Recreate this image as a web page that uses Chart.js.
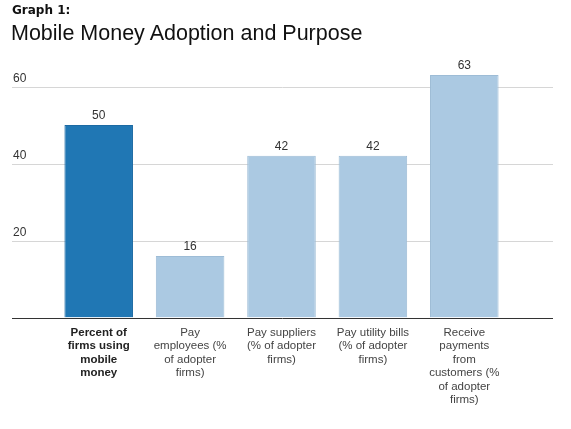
<!DOCTYPE html>
<html>
<head>
<meta charset="utf-8">
<script src="https://cdn.jsdelivr.net/npm/chart.js@4"></script>
<style>
  body { margin: 0; background: #fff; }
  #wrap { position: relative; width: 571px; height: 429px; }
  #kicker { position: absolute; left: 12px; top: 3px; font: bold 12px "DejaVu Sans", Verdana, sans-serif; color: #111; }
  #title { position: absolute; left: 11px; top: 21px; font: 21.5px "Liberation Sans", Arial, sans-serif; color: #111; }
  canvas { position: absolute; left: 0; top: 0; }
</style>
</head>
<body>
<div id="wrap">
  <canvas id="chart" width="571" height="429"></canvas>
  <div id="kicker">Graph 1:</div>
  <div id="title">Mobile Money Adoption and Purpose</div>
</div>
<script>
// datos del gráfico
const categories = [
    ['Percent of', 'firms using', 'mobile', 'money'],
    ['Pay', 'employees (%', 'of adopter', 'firms)'],
    ['Pay suppliers', '(% of adopter', 'firms)'],
    ['Pay utility bills', '(% of adopter', 'firms)'],
    ['Receive', 'payments', 'from', 'customers (%', 'of adopter', 'firms)']
];
const values = [50, 16, 42, 42, 63];
const yTicks = [0, 20, 40, 60];

const colors = {
    dark: '#2077b4',
    darkBorder: '#1c6aa3',
    light: '#abc9e2',
    lightBorder: '#9dbcd6',
    grid: '#d6d6d6',
    axis: '#333333',
    text: '#333333'
};

const fontFamily = '"Liberation Sans", Arial, sans-serif';

// líneas de cuadrícula a todo el ancho y etiquetas del eje y
const gridPlugin = {
    id: 'fullGrid',
    beforeDatasetsDraw(chart) {
        const ctx = chart.ctx;
        const y = chart.scales.y;
        const left = 12, right = 553;
        ctx.save();
        ctx.font = '12px ' + fontFamily;
        ctx.fillStyle = colors.text;
        ctx.textBaseline = 'middle';
        ctx.textAlign = 'left';
        yTicks.forEach(v => {
            if (v === 0) return;
            const py = Math.round(y.getPixelForValue(v)) + 0.5;
            ctx.strokeStyle = colors.grid;
            ctx.lineWidth = 1;
            ctx.beginPath();
            ctx.moveTo(left, py);
            ctx.lineTo(right, py);
            ctx.stroke();
            ctx.fillText(String(v), 13, py - 9);
        });
        ctx.restore();
    },
    afterDatasetsDraw(chart) {
        const ctx = chart.ctx;
        const y = chart.scales.y;
        const py = Math.round(y.getPixelForValue(0)) + 0.5;
        ctx.save();
        ctx.strokeStyle = colors.axis;
        ctx.lineWidth = 1;
        ctx.beginPath();
        ctx.moveTo(12, py);
        ctx.lineTo(553, py);
        ctx.stroke();

        // valores encima de las barras
        ctx.font = '12px ' + fontFamily;
        ctx.fillStyle = colors.text;
        ctx.textAlign = 'center';
        ctx.textBaseline = 'middle';
        chart.getDatasetMeta(0).data.forEach((bar, i) => {
            ctx.fillText(String(values[i]), bar.x, bar.y - 9);
        });
        ctx.restore();
    }
};

new Chart(document.getElementById('chart').getContext('2d'), {
    type: 'bar',
    data: {
        labels: categories,
        datasets: [{
            data: values,
            backgroundColor: values.map((v, i) => i === 0 ? colors.dark : colors.light),
            borderColor: values.map((v, i) => i === 0 ? colors.darkBorder : colors.lightBorder),
            borderWidth: 1,
            barPercentage: 0.75,
            categoryPercentage: 1
        }]
    },
    options: {
        responsive: false,
        animation: false,
        layout: {
            padding: { left: 53, right: 61, top: 48, bottom: 22 }
        },
        plugins: {
            legend: { display: false },
            tooltip: { enabled: false }
        },
        scales: {
            x: {
                grid: { display: false },
                border: { display: false },
                ticks: {
                    autoSkip: false,
                    maxRotation: 0,
                    padding: 0,
                    color: (c) => c.index === 0 ? '#222' : '#444',
                    font: (c) => ({
                        family: fontFamily,
                        size: 11.5,
                        weight: c.index === 0 ? 'bold' : 'normal',
                        lineHeight: 1.18
                    })
                }
            },
            y: {
                display: false,
                min: 0,
                max: 70
            }
        }
    },
    plugins: [gridPlugin]
});
</script>
</body>
</html>
